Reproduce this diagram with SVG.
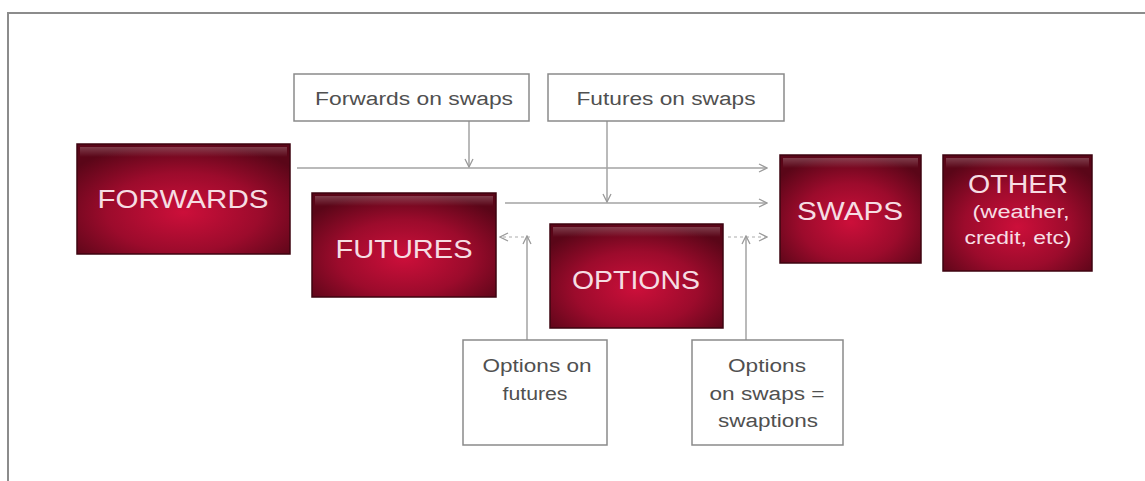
<svg xmlns="http://www.w3.org/2000/svg" width="1145" height="481" viewBox="0 0 1145 481">
<defs>
<radialGradient id="red" cx="50%" cy="62%" r="65%">
<stop offset="0" stop-color="#cc0f3a"/>
<stop offset="0.55" stop-color="#9c0b2c"/>
<stop offset="1" stop-color="#5a0618"/>
</radialGradient>
<linearGradient id="hl" x1="0" y1="0" x2="0" y2="1">
<stop offset="0" stop-color="#ffffff" stop-opacity="0.22"/>
<stop offset="1" stop-color="#ffffff" stop-opacity="0"/>
</linearGradient>
<marker id="ah" viewBox="0 0 10 10" refX="9" refY="5" markerWidth="10" markerHeight="10" markerUnits="userSpaceOnUse" orient="auto">
<path d="M1,1 L9,5 L1,9" fill="none" stroke="#9a9a9a" stroke-width="1.3"/>
</marker>
</defs>
<style>
.box{fill:url(#red);stroke:#3e0410;stroke-width:1.5}
.hi{fill:url(#hl)}
.bt{font-family:"Liberation Sans",Arial,sans-serif;fill:#f6dde3;text-anchor:middle}
.lb{fill:#fff;stroke:#8a8a8a;stroke-width:1.5}
.lt{font-family:"Liberation Sans",Arial,sans-serif;fill:#505050;text-anchor:middle;font-size:18px}
.c{fill:none;stroke:#a3a3a3;stroke-width:1.5}
.cf{fill:none;stroke:#c8c8c8;stroke-width:1.3;stroke-dasharray:3 3}
</style>
<rect x="0" y="0" width="1145" height="481" fill="#fff"/>
<path d="M8,481 V13 H1145" fill="none" stroke="#8c8c8c" stroke-width="2"/>

<g id="connectors">
<line class="c" x1="297" y1="168" x2="767" y2="168" marker-end="url(#ah)"/>
<line class="c" x1="505" y1="203" x2="767" y2="203" marker-end="url(#ah)"/>
<line class="c" x1="469" y1="121" x2="469" y2="167" marker-end="url(#ah)"/>
<line class="c" x1="607" y1="121" x2="607" y2="202" marker-end="url(#ah)"/>
<line class="cf" x1="530" y1="237" x2="500" y2="237" marker-end="url(#ah)"/>
<line class="c" x1="527" y1="340" x2="527" y2="236" marker-end="url(#ah)"/>
<line class="cf" x1="728" y1="237" x2="767" y2="237" marker-end="url(#ah)"/>
<line class="c" x1="746" y1="340" x2="746" y2="236" marker-end="url(#ah)"/>
</g>

<g id="forwards">
<rect class="box" x="77" y="144" width="213" height="110"/>
<rect class="hi" x="80" y="147" width="207" height="10"/>
<text class="bt" x="183" y="208" font-size="25" textLength="171" lengthAdjust="spacingAndGlyphs">FORWARDS</text>
</g>
<g id="futures">
<rect class="box" x="312" y="193" width="184" height="104"/>
<rect class="hi" x="315" y="196" width="178" height="10"/>
<text class="bt" x="404" y="258" font-size="25" textLength="137" lengthAdjust="spacingAndGlyphs">FUTURES</text>
</g>
<g id="options">
<rect class="box" x="550" y="224" width="173" height="104"/>
<rect class="hi" x="553" y="227" width="167" height="10"/>
<text class="bt" x="636" y="289" font-size="25" textLength="128" lengthAdjust="spacingAndGlyphs">OPTIONS</text>
</g>
<g id="swaps">
<rect class="box" x="780" y="155" width="141" height="108"/>
<rect class="hi" x="783" y="158" width="135" height="10"/>
<text class="bt" x="850" y="220" font-size="25" textLength="106" lengthAdjust="spacingAndGlyphs">SWAPS</text>
</g>
<g id="other">
<rect class="box" x="943" y="155" width="149" height="116"/>
<rect class="hi" x="946" y="158" width="143" height="10"/>
<text class="bt" x="1018" y="193" font-size="25" textLength="100" lengthAdjust="spacingAndGlyphs">OTHER</text>
<text class="bt" x="1021" y="218" font-size="18" textLength="97" lengthAdjust="spacingAndGlyphs">(weather,</text>
<text class="bt" x="1018" y="244" font-size="18" textLength="107" lengthAdjust="spacingAndGlyphs">credit, etc)</text>
</g>

<g id="forwards-on-swaps">
<rect class="lb" x="294" y="74" width="235" height="47"/>
<text class="lt" x="414" y="105" textLength="198" lengthAdjust="spacingAndGlyphs">Forwards on swaps</text>
</g>
<g id="futures-on-swaps">
<rect class="lb" x="548" y="74" width="236" height="47"/>
<text class="lt" x="666" y="105" textLength="179" lengthAdjust="spacingAndGlyphs">Futures on swaps</text>
</g>
<g id="options-on-futures">
<rect class="lb" x="463" y="340" width="144" height="105"/>
<text class="lt" x="537" y="372" textLength="109" lengthAdjust="spacingAndGlyphs">Options on</text>
<text class="lt" x="535" y="400" textLength="65" lengthAdjust="spacingAndGlyphs">futures</text>
</g>
<g id="swaptions">
<rect class="lb" x="692" y="340" width="151" height="105"/>
<text class="lt" x="767" y="372" textLength="78" lengthAdjust="spacingAndGlyphs">Options</text>
<text class="lt" x="767" y="400" textLength="115" lengthAdjust="spacingAndGlyphs">on swaps =</text>
<text class="lt" x="768" y="427" textLength="100" lengthAdjust="spacingAndGlyphs">swaptions</text>
</g>
</svg>
